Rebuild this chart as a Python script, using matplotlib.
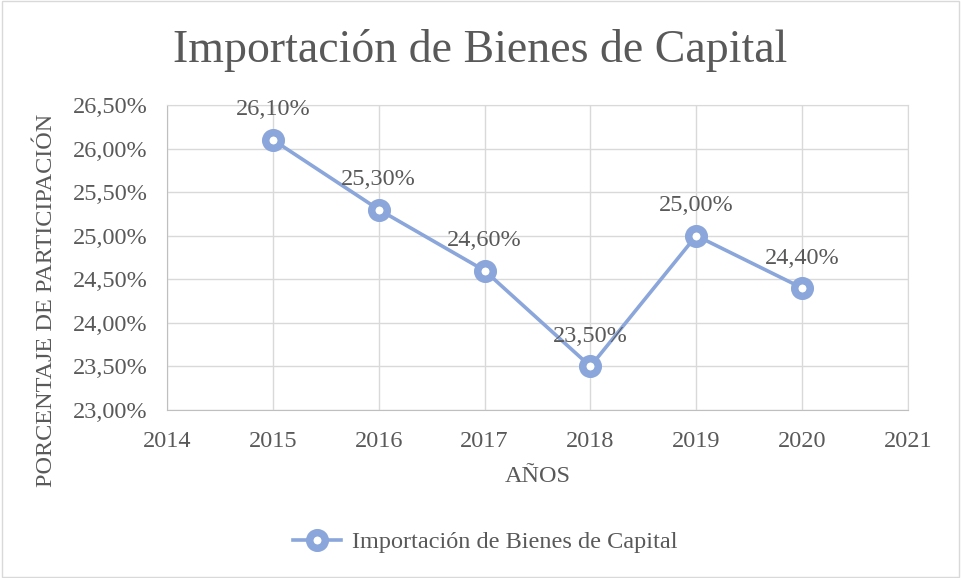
import matplotlib
matplotlib.use("Agg")
import matplotlib.pyplot as plt
from matplotlib.patches import Rectangle

# ── Data ──────────────────────────────────────────────────────────────────────
years = [2015, 2016, 2017, 2018, 2019, 2020]
share = [26.10, 25.30, 24.60, 23.50, 25.00, 24.40]
y_ticks = [23.0, 23.5, 24.0, 24.5, 25.0, 25.5, 26.0, 26.5]
x_ticks = [2014, 2015, 2016, 2017, 2018, 2019, 2020, 2021]

SERIES = "Importación de Bienes de Capital"
BLUE = "#8AA6DA"
TEXT = "#595959"
GRID = "#D9D9D9"
FS = 17.5

plt.rcParams["font.family"] = ["Liberation Serif", "DejaVu Serif"]


def pct(v):
    return f"{v:.2f}".replace(".", ",") + "%"


fig = plt.figure(figsize=(9.61, 5.78), dpi=100)
ax = fig.add_axes([0.1738, 0.2907, 0.771, 0.5277])

# ring markers: thick edge around a small white centre
ax.plot(years, share, color=BLUE, linewidth=2.6, marker="o", markersize=11.2,
        markerfacecolor="white", markeredgecolor=BLUE, markeredgewidth=5.4,
        label=SERIES, zorder=3)

for x, y in zip(years, share):
    ax.annotate(pct(y), (x, y), xytext=(0, 14), textcoords="offset points",
                ha="center", va="bottom", fontsize=FS, color=TEXT)

ax.set_xlim(2014, 2021)
ax.set_ylim(23.0, 26.5)
ax.set_xticks(x_ticks)
ax.set_yticks(y_ticks)
ax.set_yticklabels([pct(v) for v in y_ticks])
ax.tick_params(labelsize=FS, colors=TEXT, length=0)
ax.tick_params(axis="y", pad=14)
ax.tick_params(axis="x", pad=15)
ax.grid(True, color=GRID, linewidth=1)
ax.set_axisbelow(True)
for s in ax.spines.values():
    s.set_color(GRID)
ax.spines["left"].set_color("#BFBFBF")
ax.spines["bottom"].set_color("#BFBFBF")

ax.set_xlabel("AÑOS", fontsize=FS, color=TEXT)
ax.set_ylabel("PORCENTAJE DE PARTICIPACIÓN", fontsize=FS, color=TEXT)
ax.xaxis.set_label_coords(0.5, -0.183)
ax.yaxis.set_label_coords(-0.148, 0.36)

fig.suptitle(SERIES, fontsize=33, color=TEXT, y=0.95)

fig.legend(loc="center", bbox_to_anchor=(0.505, 0.062), frameon=False,
           fontsize=FS, labelcolor=TEXT, handlelength=2.0, handletextpad=0.45)

fig.patches.append(Rectangle((0.002, 0.002), 0.996, 0.996, transform=fig.transFigure,
                             fill=False, edgecolor="#D9D9D9", linewidth=1))

fig.savefig("out.png", dpi=100)
